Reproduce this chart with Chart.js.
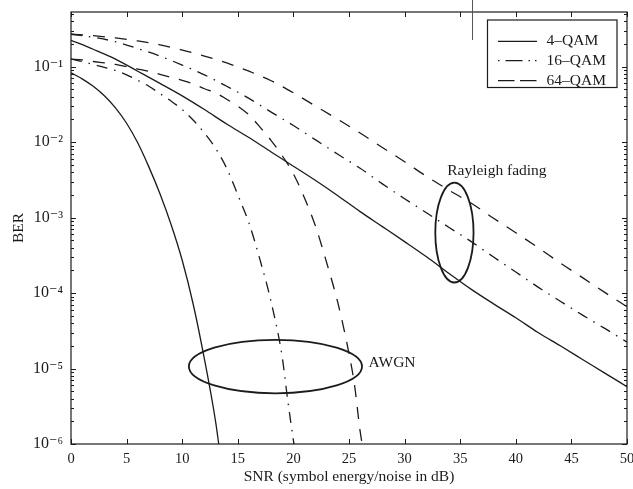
<!DOCTYPE html>
<html>
<head>
<meta charset="utf-8">
<script src="https://cdn.jsdelivr.net/npm/chart.js@4.4.1/dist/chart.umd.min.js"></script>
<style>
html,body{margin:0;padding:0;background:#fff;}
canvas{display:block;}
</style>
</head>
<body>
<canvas id="c" width="633" height="489"></canvas>
<script>
// ---------- data ----------
const legendLabels = ['4\u2013QAM', '16\u2013QAM', '64\u2013QAM'];

const xTicks = [0, 5, 10, 15, 20, 25, 30, 35, 40, 45, 50];
const yDecades = [1e-6, 1e-5, 1e-4, 1e-3, 1e-2, 1e-1];
const yTickLabels = ['10\u207B\u2076', '10\u207B\u2075', '10\u207B\u2074', '10\u207B\u00B3', '10\u207B\u00B2', '10\u207B\u00B9'];

// AWGN curves
const snrAwgn4 = [0,1,2,3,4,5,6,7,8,9,10,11,12,13,13.35];
const berAwgn4 = [0.083,0.069,0.055,0.0412,0.0285,0.0178,0.0098,0.0047,0.00207,8.1e-4,2.72e-4,7.0e-5,1.33e-5,2.0e-6,8.5e-7];

const snrAwgn16 = [0,1,2,3,4,5,6,7,8,9,10,11,12,13,14,15,16,17,18,19,19.5,20,20.15];
const berAwgn16 = [0.126,0.117,0.107,0.098,0.089,0.078,0.066,0.055,0.044,0.035,0.027,0.0195,0.0132,0.0083,0.0045,0.0020,8.5e-4,2.75e-4,7.6e-5,1.4e-5,3.7e-6,1.12e-6,8.0e-7];

const snrAwgn64 = [0,1,2,3,4,5,6,7,8,9,10,11,12,13,14,15,16,17,18,19,20,21,22,23,24,25,25.5,26,26.3];
const berAwgn64 = [0.126,0.123,0.117,0.112,0.107,0.100,0.093,0.087,0.079,0.072,0.066,0.059,0.051,0.045,0.037,0.030,0.023,0.0158,0.0105,0.0066,0.0038,0.00182,7.6e-4,2.5e-4,7.4e-5,1.58e-5,6.0e-6,1.48e-6,8.0e-7];

// Rayleigh fading curves
const snrRayleigh = [0,2,4,6,8,10,12,14,16,18,20,22,24,26,28,30,32,34,36,38,40,42,44,46,48,50];
const berRay4  = [0.224,0.170,0.126,0.087,0.060,0.041,0.027,0.0174,0.0115,0.0074,0.0048,0.0031,0.00195,0.0012,7.6e-4,4.8e-4,3.0e-4,1.82e-4,1.12e-4,7.2e-5,4.7e-5,3.0e-5,2.0e-5,1.32e-5,8.7e-6,5.75e-6];
const berRay16 = [0.269,0.245,0.214,0.174,0.138,0.105,0.078,0.055,0.038,0.025,0.0166,0.0107,0.0069,0.0045,0.0028,0.00178,0.00115,7.4e-4,4.8e-4,3.0e-4,1.9e-4,1.2e-4,7.8e-5,5.1e-5,3.4e-5,2.24e-5];
const berRay64 = [0.269,0.257,0.240,0.219,0.195,0.166,0.138,0.112,0.087,0.065,0.045,0.030,0.020,0.0132,0.0085,0.0055,0.0035,0.0023,0.00155,9.8e-4,6.3e-4,4.0e-4,2.5e-4,1.6e-4,1.02e-4,6.6e-5];

// annotations (data coordinates)
const rayleighEllipse = {xMin: 32.76, xMax: 36.2, yTop: 2.9e-3, yBottom: 1.38e-4};
const awgnEllipse = {xMin: 10.6, xMax: 26.17, yTop: 2.4e-5, yBottom: 4.7e-6};
const rayleighText = {text: 'Rayleigh fading', x: 38.3, y: 4.2e-3};
const awgnText = {text: 'AWGN', x: 26.76, y: 1.17e-5};

// ---------- styles ----------
const INK = '#1b1b1b';
const SERIF = '"Liberation Serif", "DejaVu Serif", "Times New Roman", serif';
const DASH = [12, 10];
const DASHDOT = [11, 7, 1.5, 7];
const styles = [[], DASHDOT, DASH];

function pts(xs, ys) { return xs.map((x, i) => ({x: x, y: ys[i]})); }
function ds(label, xs, ys, dash) {
  return {
    label: label, data: pts(xs, ys), borderColor: INK, backgroundColor: INK,
    borderWidth: 1.3, borderDash: dash, pointRadius: 0, fill: false,
    cubicInterpolationMode: 'monotone'
  };
}

const datasets = [
  ds(legendLabels[0], snrAwgn4, berAwgn4, styles[0]),
  ds(legendLabels[1], snrAwgn16, berAwgn16, styles[1]),
  ds(legendLabels[2], snrAwgn64, berAwgn64, styles[2]),
  ds(legendLabels[0], snrRayleigh, berRay4, styles[0]),
  ds(legendLabels[1], snrRayleigh, berRay16, styles[1]),
  ds(legendLabels[2], snrRayleigh, berRay64, styles[2])
];

const decor = {
  id: 'decor',
  afterDatasetsDraw(chart) {
    const ctx = chart.ctx, a = chart.chartArea, x = chart.scales.x, y = chart.scales.y;
    ctx.save();
    ctx.setLineDash([]);
    ctx.strokeStyle = INK;
    // frame
    ctx.lineWidth = 1.2;
    ctx.strokeRect(a.left, a.top, a.right - a.left, a.bottom - a.top);
    // ticks
    ctx.lineWidth = 1;
    ctx.beginPath();
    xTicks.forEach(v => {
      const px = Math.round(x.getPixelForValue(v)) + 0.5;
      ctx.moveTo(px, a.bottom); ctx.lineTo(px, a.bottom - 5);
      ctx.moveTo(px, a.top); ctx.lineTo(px, a.top + 5);
    });
    const yMax = y.max;
    yDecades.forEach(d => {
      for (let k = 1; k <= 9; k++) {
        const v = k * d;
        if (v > yMax) break;
        const py = Math.round(y.getPixelForValue(v)) + 0.5;
        const len = k === 1 ? 5 : 3;
        ctx.moveTo(a.left, py); ctx.lineTo(a.left + len, py);
        ctx.moveTo(a.right, py); ctx.lineTo(a.right - len, py);
      }
    });
    ctx.stroke();

    // ellipses
    ctx.lineWidth = 1.8;
    [rayleighEllipse, awgnEllipse].forEach(e => {
      const x1 = x.getPixelForValue(e.xMin), x2 = x.getPixelForValue(e.xMax);
      const y1 = y.getPixelForValue(e.yTop), y2 = y.getPixelForValue(e.yBottom);
      ctx.beginPath();
      ctx.ellipse((x1 + x2) / 2, (y1 + y2) / 2, (x2 - x1) / 2, (y2 - y1) / 2, 0, 0, Math.PI * 2);
      ctx.stroke();
    });

    // annotation text
    ctx.fillStyle = INK;
    ctx.font = '15.5px ' + SERIF;
    ctx.textBaseline = 'middle';
    ctx.textAlign = 'center';
    ctx.fillText(rayleighText.text, x.getPixelForValue(rayleighText.x), y.getPixelForValue(rayleighText.y));
    ctx.textAlign = 'left';
    ctx.fillText(awgnText.text, x.getPixelForValue(awgnText.x), y.getPixelForValue(awgnText.y));

    // legend box (top right inside plot)
    const bx = a.right - 139.5, by = a.top + 8, bw = 129.5, bh = 67.5;
    ctx.lineWidth = 1.2;
    ctx.setLineDash([]);
    ctx.fillStyle = '#fff';
    ctx.fillRect(bx, by, bw, bh);
    ctx.strokeRect(bx, by, bw, bh);
    const rows = [21.3, 40.7, 60.7];
    const legendDash = [[], [1.5, 6, 17, 6, 1.5, 5, 1.5, 20], [16.5, 5.5]];
    ctx.lineWidth = 1.3;
    legendLabels.forEach((lab, i) => {
      const ry = by + rows[i];
      ctx.setLineDash(legendDash[i]);
      ctx.beginPath();
      ctx.moveTo(bx + 10.5, ry); ctx.lineTo(bx + 49.5, ry);
      ctx.stroke();
      ctx.setLineDash([]);
      ctx.fillStyle = INK;
      ctx.font = '15.5px ' + SERIF;
      ctx.textAlign = 'left';
      ctx.textBaseline = 'middle';
      ctx.fillText(lab, bx + 59, ry);
    });

    // small vertical scan mark crossing the top frame
    ctx.strokeStyle = '#555';
    ctx.lineWidth = 1;
    ctx.beginPath();
    ctx.moveTo(472.5, 0); ctx.lineTo(472.5, 40);
    ctx.stroke();
    ctx.restore();
  }
};

new Chart(document.getElementById('c'), {
  type: 'line',
  data: {datasets: datasets},
  plugins: [decor],
  options: {
    responsive: false,
    animation: false,
    devicePixelRatio: 1,
    layout: {padding: {top: 12, right: 6, bottom: 0, left: 0}},
    plugins: {legend: {display: false}, tooltip: {enabled: false}},
    scales: {
      x: {
        type: 'linear', min: 0, max: 50,
        grid: {display: false, drawTicks: false},
        border: {display: false},
        afterBuildTicks(s) { s.ticks = xTicks.map(v => ({value: v})); },
        ticks: {color: INK, font: {family: SERIF, size: 14.5}, padding: 6, maxRotation: 0, autoSkip: false},
        title: {display: true, text: 'SNR (symbol energy/noise in dB)', color: INK,
                font: {family: SERIF, size: 15.5}, padding: {top: 0, bottom: 3}},
        afterFit(s) { s.height = 45; s.paddingLeft = 0; s.paddingRight = 0; }
      },
      y: {
        type: 'logarithmic', min: 1e-6, max: 0.53,
        grid: {display: false, drawTicks: false},
        border: {display: false},
        afterBuildTicks(s) { s.ticks = yDecades.map(v => ({value: v, major: true})); },
        ticks: {
          callback: (v, i) => yTickLabels[i],
          color: INK, font: {family: SERIF, size: 16}, padding: 8, autoSkip: false
        },
        title: {display: true, text: 'BER', color: INK,
                font: {family: SERIF, size: 15.5}, padding: {top: 9.5, bottom: 0}},
        afterFit(s) { s.width = 71; s.paddingTop = 0; s.paddingBottom = 0; }
      }
    }
  }
});
</script>
</body>
</html>
